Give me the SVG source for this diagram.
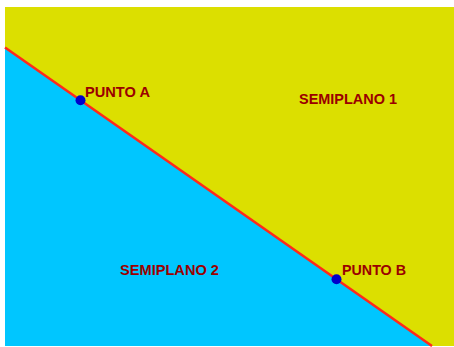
<svg xmlns="http://www.w3.org/2000/svg" width="454" height="347" viewBox="0 0 454 347">
<style>
.lbl{font-family:"Liberation Sans",Arial,sans-serif;font-weight:bold;font-size:15px;fill:#9a0000;}
.pt{fill:#0000cc;}
</style>
<rect x="0" y="0" width="454" height="347" fill="#ffffff"/>
<g id="semiplano1">
<polygon points="5,7 454,7 454,346 432,346 5,47.4" fill="#dcdf00"/>
<text class="lbl" x="299" y="104" textLength="98" lengthAdjust="spacingAndGlyphs">SEMIPLANO 1</text>
</g>
<g id="semiplano2">
<polygon points="5,47.4 432,346 5,346" fill="#00c6ff"/>
<text class="lbl" x="120" y="275" textLength="99" lengthAdjust="spacingAndGlyphs">SEMIPLANO 2</text>
</g>
<g id="connectors">
<line x1="5" y1="47.4" x2="432" y2="346" stroke="#ff2a1a" stroke-width="2.5"/>
</g>
<g id="puntoA">
<circle class="pt" cx="80.5" cy="100.3" r="5"/>
<text class="lbl" x="85" y="97" textLength="65" lengthAdjust="spacingAndGlyphs">PUNTO A</text>
</g>
<g id="puntoB">
<circle class="pt" cx="336.5" cy="279.3" r="5"/>
<text class="lbl" x="342" y="275" textLength="64" lengthAdjust="spacingAndGlyphs">PUNTO B</text>
</g>
</svg>
